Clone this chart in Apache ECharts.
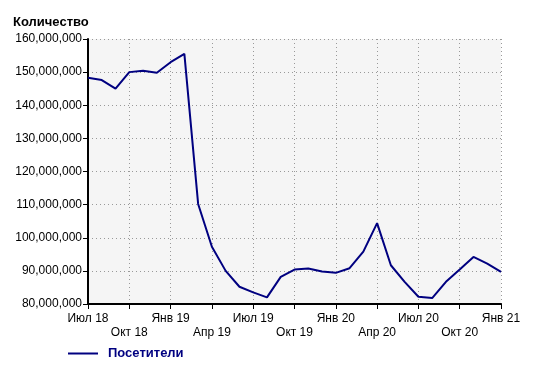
<!DOCTYPE html>
<html><head><meta charset="utf-8">
<script src="https://cdn.jsdelivr.net/npm/echarts@6/dist/echarts.min.js"></script>
<style>html,body{margin:0;padding:0;background:#fff}#c{width:554px;height:365px}</style>
</head><body><div id="c"></div>
<script>
const months = ['Июл 18','Авг 18','Сен 18','Окт 18','Ноя 18','Дек 18','Янв 19','Фев 19','Мар 19','Апр 19','Май 19','Июн 19',
  'Июл 19','Авг 19','Сен 19','Окт 19','Ноя 19','Дек 19','Янв 20','Фев 20','Мар 20','Апр 20','Май 20','Июн 20',
  'Июл 20','Авг 20','Сен 20','Окт 20','Ноя 20','Дек 20','Янв 21'];
const visitors = [148.3,147.6,145.0,150.0,150.4,149.8,153.0,155.5,110.2,97.3,90.0,85.2,
  83.5,82.0,88.2,90.4,90.7,89.8,89.4,90.8,95.8,104.4,91.7,86.7,
  82.2,81.8,86.7,90.4,94.2,92.2,89.7].map(v => Math.round(v * 1e6));
const yTicks = [80e6, 90e6, 100e6, 110e6, 120e6, 130e6, 140e6, 150e6, 160e6];

const chart = echarts.init(document.getElementById('c'));
const font = 'Arial, "Liberation Sans", sans-serif';
chart.setOption({
  animation: false,
  textStyle: {fontFamily: font},
  title: {text: 'Количество', left: 8, top: 11,
    textStyle: {fontSize: 13, fontWeight: 'bold', color: '#000', fontFamily: font}},
  legend: {data: ['Посетители'], left: 63, top: 342, icon: 'rect', itemWidth: 30, itemHeight: 2, itemGap: 14,
    textStyle: {color: '#000080', fontWeight: 'bold', fontSize: 13, fontFamily: font, padding: [0, 0, 0, 5]}},
  grid: {left: 88, right: 53, top: 39, bottom: 61, show: true, backgroundColor: '#f5f5f5', borderWidth: 0},
  xAxis: {
    type: 'category', data: months, boundaryGap: false,
    axisLine: {lineStyle: {color: '#000', width: 2}},
    axisTick: {interval: i => i % 3 === 0, length: 5, lineStyle: {color: '#000'}},
    axisLabel: {interval: i => i % 3 === 0, color: '#000', fontSize: 12, lineHeight: 14, margin: 8,
      formatter: (v, i) => (i % 6 === 3 ? '\n' + v : v)},
    splitLine: {show: true, interval: i => i % 3 === 0, lineStyle: {color: '#999', type: [1, 3], width: 1}}
  },
  yAxis: {
    type: 'value', min: yTicks[0], max: yTicks[yTicks.length - 1], interval: 10e6,
    axisLine: {show: true, lineStyle: {color: '#000', width: 2}},
    axisTick: {show: true, length: 5, lineStyle: {color: '#000'}},
    axisLabel: {color: '#000', fontSize: 12, margin: 6, formatter: v => v.toLocaleString('en-US')},
    splitLine: {show: true, lineStyle: {color: '#999', type: [1, 3], width: 1}}
  },
  series: [{name: 'Посетители', type: 'line', data: visitors, symbol: 'none',
    lineStyle: {color: '#000080', width: 2}, itemStyle: {color: '#000080'}}]
});
</script></body></html>
